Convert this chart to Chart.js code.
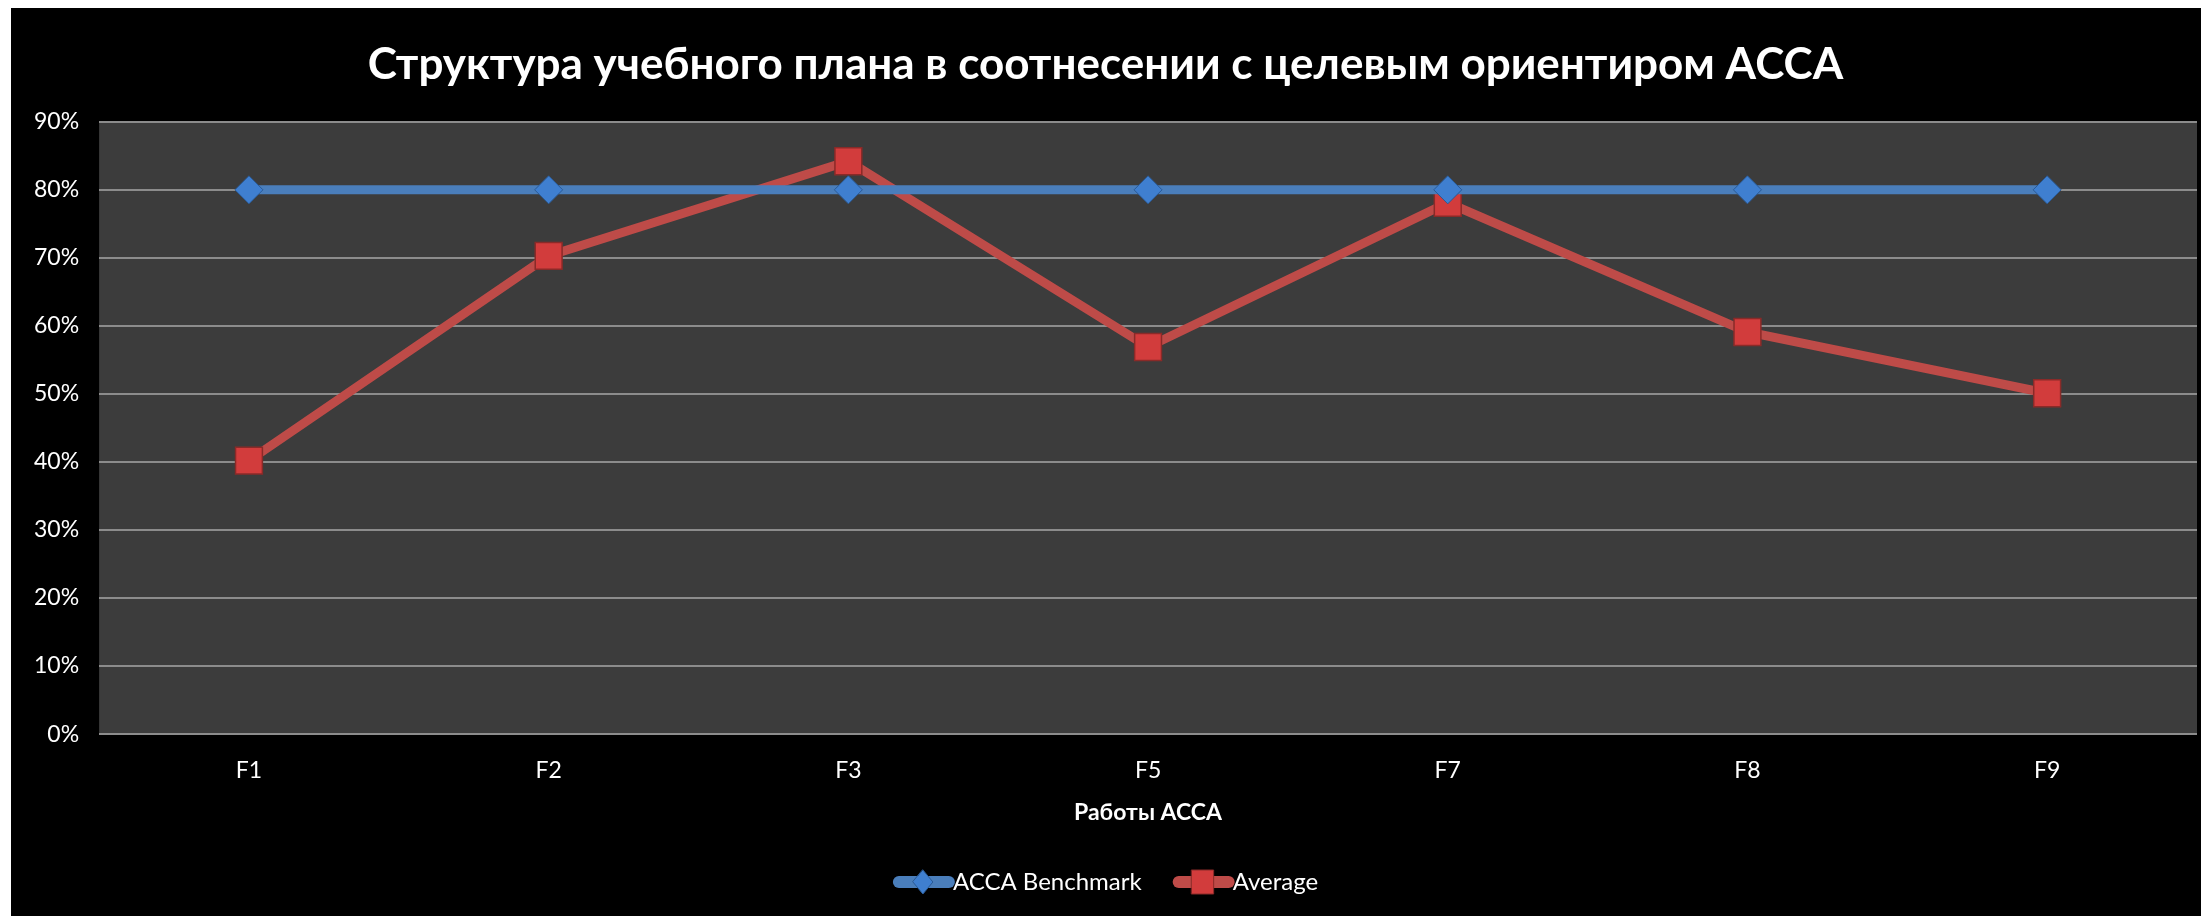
<!DOCTYPE html>
<html>
<head>
<meta charset="utf-8">
<script src="https://cdn.jsdelivr.net/npm/chart.js@4"></script>
<style>
  html, body { margin: 0; padding: 0; background: #fff; overflow: hidden; }
  #box { position: absolute; left: 11px; top: 8px; width: 2210px; height: 908px; background: #000; }
  #c { display: block; }
</style>
</head>
<body>
<div id="box"><canvas id="c" width="2210" height="908"></canvas></div>
<script>
// data
const papers = ["F1", "F2", "F3", "F5", "F7", "F8", "F9"];
const benchmark = [0.80, 0.80, 0.80, 0.80, 0.80, 0.80, 0.80];
const average = [0.402, 0.703, 0.842, 0.569, 0.781, 0.591, 0.501];
const yTicks = [0, 0.1, 0.2, 0.3, 0.4, 0.5, 0.6, 0.7, 0.8, 0.9];

const blue = "#4a7ebb";
const red = "#be4b48";
const font = "Lato, 'Noto Sans', sans-serif";

// excel-style legend swatch: thick line with the marker on it
const legendMarkers = {
  id: "legendMarkers",
  afterDraw(chart) {
    const lg = chart.legend;
    if (!lg || !lg.legendHitBoxes) return;
    const ctx = chart.ctx;
    lg.legendHitBoxes.forEach((hb, i) => {
      const ds = chart.data.datasets[i];
      const x0 = hb.left + 6, x1 = hb.left + 56;
      const cx = hb.left + 30;
      const cy = hb.top + hb.height / 2;
      ctx.save();
      ctx.strokeStyle = ds.borderColor;
      ctx.lineWidth = 12;
      ctx.lineCap = "round";
      ctx.beginPath();
      ctx.moveTo(x0, cy);
      ctx.lineTo(x1, cy);
      ctx.stroke();
      ctx.fillStyle = ds.pointBackgroundColor;
      ctx.strokeStyle = ds.pointBorderColor;
      ctx.lineWidth = 1;
      ctx.beginPath();
      if (ds.pointStyle === "rectRot") {
        ctx.moveTo(cx, cy - 12); ctx.lineTo(cx + 10, cy); ctx.lineTo(cx, cy + 12); ctx.lineTo(cx - 10, cy);
      } else {
        ctx.rect(cx - 11, cy - 12, 22, 24);
      }
      ctx.closePath();
      ctx.fill();
      ctx.stroke();
      ctx.restore();
    });
  }
};

const plotBg = {
  id: "plotBg",
  beforeDraw(chart) {
    const a = chart.chartArea;
    chart.ctx.save();
    chart.ctx.fillStyle = "#3c3c3c";
    chart.ctx.fillRect(a.left, a.top, a.right - a.left, a.bottom - a.top);
    chart.ctx.restore();
  }
};

new Chart(document.getElementById("c"), {
  type: "line",
  data: {
    labels: papers,
    datasets: [
      {
        label: "ACCA Benchmark",
        data: benchmark,
        borderColor: blue,
        borderWidth: 9,
        pointStyle: "rectRot",
        pointRadius: 14,
        pointBackgroundColor: "#3f7fd0",
        pointBorderColor: "#2a5a95",
        pointBorderWidth: 1,
        backgroundColor: blue
      },
      {
        label: "Average",
        data: average,
        borderColor: red,
        borderWidth: 9,
        pointStyle: "rect",
        pointRadius: 19,
        pointBackgroundColor: "#d23c3c",
        pointBorderColor: "#8a2a28",
        pointBorderWidth: 1.5,
        backgroundColor: red
      }
    ]
  },
  options: {
    responsive: false,
    animation: false,
    devicePixelRatio: 1,
    layout: { padding: { left: 3, right: 24, top: 0, bottom: 12 } },
    plugins: {
      title: {
        display: true,
        text: "Структура учебного плана в соотнесении с целевым ориентиром ACCA",
        color: "#fff",
        font: { family: font, size: 44, weight: "bold" },
        padding: { top: 30, bottom: 31 }
      },
      legend: {
        position: "bottom",
        labels: {
          color: "#fff",
          font: { family: font, size: 24 },
          boxWidth: 48,
          boxHeight: 11,
          padding: 31,
          generateLabels(chart) {
            return Chart.defaults.plugins.legend.labels.generateLabels(chart).map(l =>
              Object.assign(l, { fillStyle: "rgba(0,0,0,0)", strokeStyle: "rgba(0,0,0,0)", lineWidth: 0 }));
          }
        }
      },
      tooltip: { enabled: false }
    },
    scales: {
      x: {
        offset: true,
        grid: { display: false },
        border: { display: false },
        ticks: { color: "#fff", font: { family: font, size: 23 }, padding: 15 },
        title: {
          display: true,
          text: "Работы ACCA",
          color: "#fff",
          font: { family: font, size: 23, weight: "bold", lineHeight: 1.1 },
          padding: { top: 0, bottom: 14 }
        }
      },
      y: {
        min: 0,
        max: 0.9,
        afterBuildTicks(scale) { scale.ticks = yTicks.map(v => ({ value: v })); },
        grid: { color: "#8c8c8c", lineWidth: 2, drawTicks: false },
        border: { display: false },
        ticks: {
          color: "#fff",
          font: { family: font, size: 23 },
          padding: 20,
          callback: v => Math.round(v * 100) + "%"
        }
      }
    }
  },
  plugins: [plotBg, legendMarkers]
});
</script>
</body>
</html>
